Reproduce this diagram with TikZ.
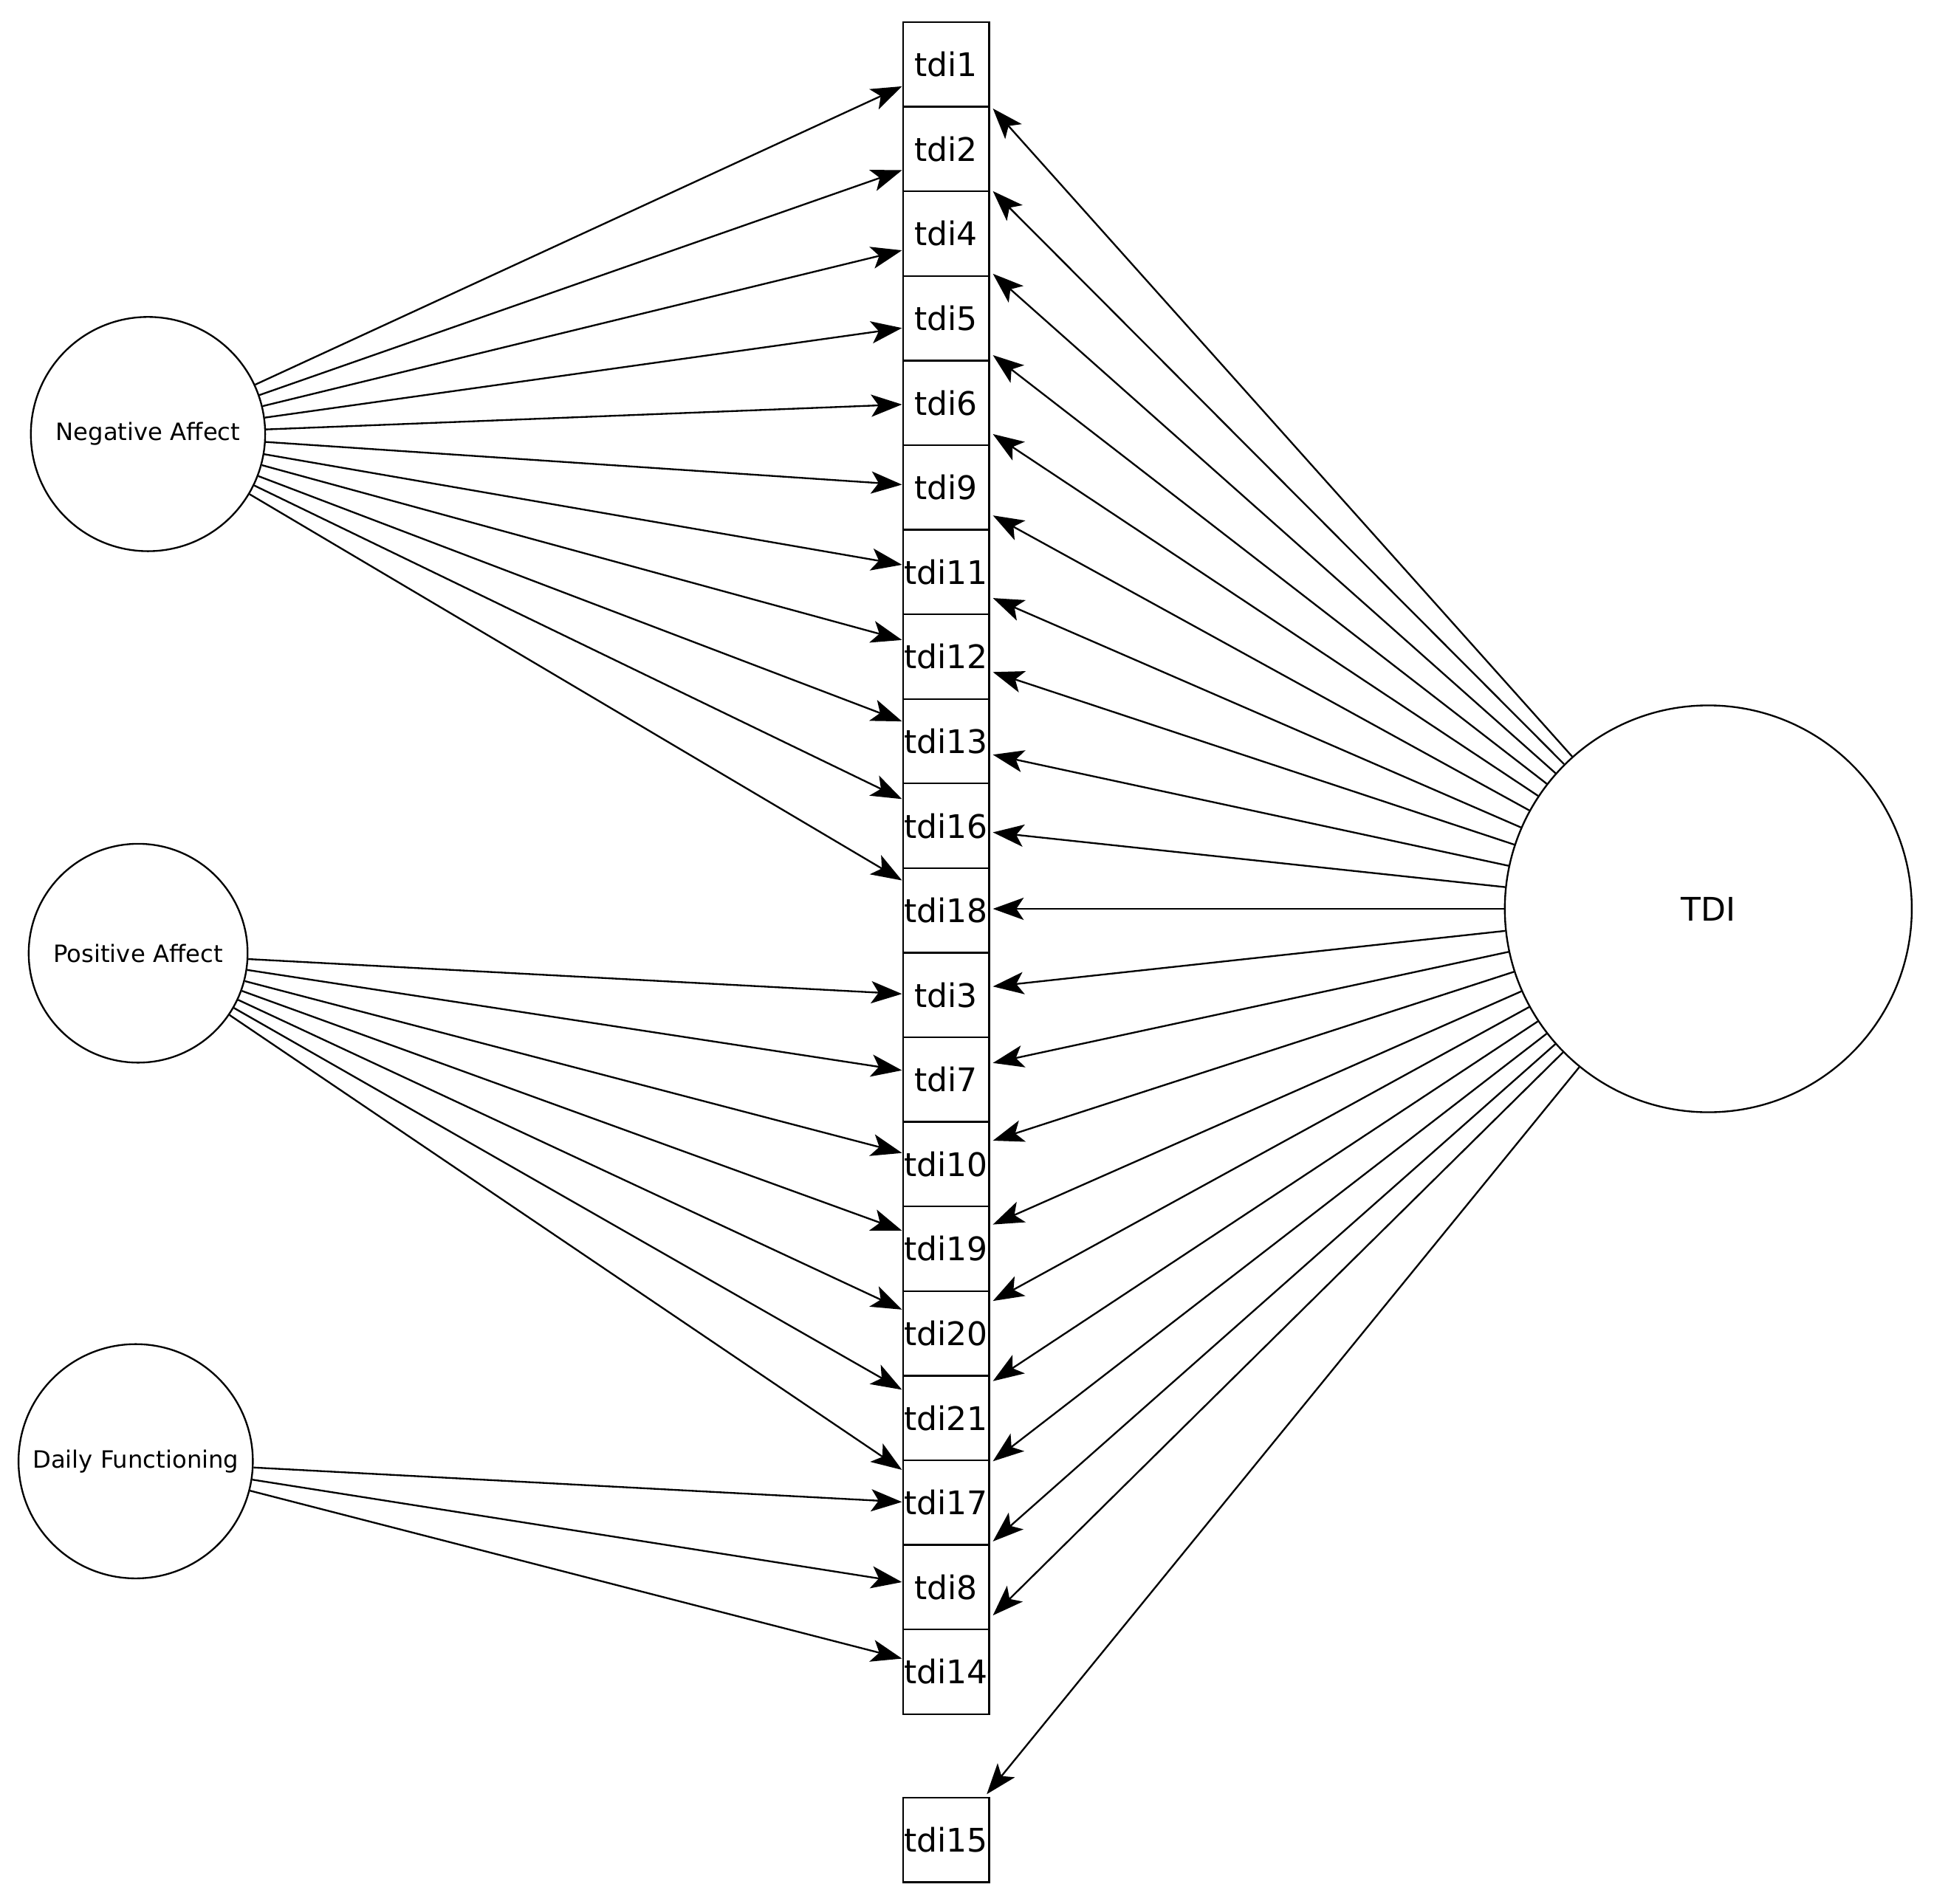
\documentclass[tikz,border=0pt]{standalone}
\usepackage{fontspec}
\setmainfont{DejaVu Sans}
\usetikzlibrary{arrows.meta}
\begin{document}
\begin{tikzpicture}[x=0.02cm,y=-0.02cm,
  box/.style={draw,line width=0.8pt,minimum width=1.4cm,minimum height=1.372cm,inner sep=0pt,font=\fontsize{15}{15}\selectfont},
  lat/.style={draw,circle,line width=0.8pt,inner sep=0pt},
  arr/.style={line width=0.8pt,-{Stealth[length=0.5cm,width=0.36cm,inset=0.12cm]}}]
\useasboundingbox (0,0) rectangle (1568,1544);
\foreach \n [count=\i] in {1,2,4,5,6,9,11,12,13,16,18,3,7,10,19,20,21,17,8,14}{
  \node[box] (t\n) at (767,{18+68.6*(\i-0.5)}) {tdi\n};
}
\node[box] (t15) at (767,1492) {tdi15};
\node[lat,minimum size=3.8cm,font=\fontsize{11}{11}\selectfont] (NA) at (120,352) {Negative Affect};
\node[lat,minimum size=3.55cm,font=\fontsize{11}{11}\selectfont] (PA) at (112,773) {Positive Affect};
\node[lat,minimum size=3.8cm,font=\fontsize{11}{11}\selectfont] (DF) at (110,1185) {Daily Functioning};
\node[lat,minimum size=6.6cm,font=\fontsize{15}{15}\selectfont] (TDI) at (1385,737) {TDI};
\foreach \n/\y in {1/70,2/138,4/203,5/266,6/328,9/393,11/458,12/519,13/585,16/648,18/714}{
  \coordinate (e) at (t\n.west |- 0,\y);
  \draw[arr] (NA) -- (e);
}
\foreach \n/\y in {3/806,7/868,10/935,19/998,20/1062,21/1127,17/1192}{
  \coordinate (e) at (t\n.west |- 0,\y);
  \draw[arr] (PA) -- (e);
}
\foreach \n/\y in {17/1218,8/1283,14/1345}{
  \coordinate (e) at (t\n.west |- 0,\y);
  \draw[arr] (DF) -- (e);
}
\foreach \n/\y in {1/88,2/155,4/222,5/288,6/352,9/418,11/485,12/545,13/612,16/675,18/737,3/800,7/862,10/925,19/993,20/1055,21/1120,17/1185,8/1250,14/1310}{
  \coordinate (r) at (805,\y);
  \draw[arr] (TDI) -- (r);
}
\coordinate (r15) at (800,1455);
\draw[arr] (TDI) -- (r15);
\end{tikzpicture}
\end{document}
